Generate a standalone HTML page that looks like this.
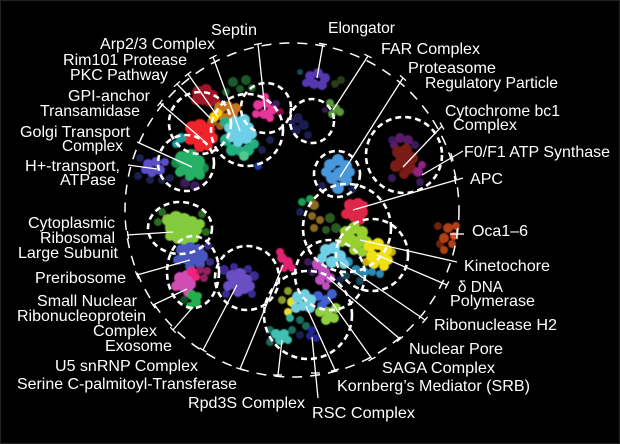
<!DOCTYPE html>
<html><head><meta charset="utf-8"><style>
html,body{margin:0;padding:0;background:#000;}
svg{display:block;}
text{font-family:"Liberation Sans",Arial,sans-serif;font-size:16px;fill:#fff;}
</style></head><body>
<svg width="620" height="444" viewBox="0 0 620 444" xmlns="http://www.w3.org/2000/svg">
<defs><filter id="soft" x="-10%" y="-10%" width="120%" height="120%"><feGaussianBlur stdDeviation="0.6"/></filter></defs>
<rect width="620" height="444" fill="#000"/>
<rect x="0.5" y="0.5" width="619" height="443" fill="none" stroke="#222" stroke-width="1"/>

<g filter="url(#soft)">
<!-- background dim dots -->
<g fill="#1a2250"><circle cx="140" cy="158" r="4"/><circle cx="162" cy="180" r="4"/><circle cx="262" cy="150" r="4"/><circle cx="270" cy="140" r="4"/><circle cx="300" cy="212" r="4"/><circle cx="340" cy="280" r="4"/><circle cx="300" cy="335" r="4"/><circle cx="150" cy="180" r="4"/><circle cx="322" cy="186" r="4"/><circle cx="352" cy="190" r="4"/><circle cx="138" cy="176" r="4"/><circle cx="170" cy="178" r="4"/></g>
<g fill="#3a1a5a"><circle cx="185" cy="183" r="5"/><circle cx="195" cy="186" r="5"/><circle cx="308" cy="262" r="4"/><circle cx="312" cy="272" r="4"/><circle cx="276" cy="104" r="4"/><circle cx="325" cy="110" r="3"/><circle cx="392" cy="140" r="4"/><circle cx="415" cy="145" r="4"/><circle cx="420" cy="182" r="4"/><circle cx="392" cy="178" r="4"/></g>
<g fill="#1a5a2a"><circle cx="233" cy="82" r="5"/><circle cx="246" cy="80" r="5"/><circle cx="240" cy="89" r="4"/><circle cx="252" cy="88" r="4"/><circle cx="226" cy="92" r="4"/></g>
<g fill="#1a4a5a"><circle cx="346" cy="276" r="4"/><circle cx="360" cy="281" r="4"/><circle cx="300" cy="72" r="3"/></g>

<!-- dark red -->
<g fill="#a01828"><circle cx="198" cy="92" r="6"/><circle cx="206" cy="90" r="6"/><circle cx="213" cy="95" r="5"/><circle cx="203" cy="99" r="6"/><circle cx="210" cy="102" r="5"/><circle cx="196" cy="100" r="5"/><circle cx="217" cy="102" r="4"/></g>
<!-- orange -->
<g fill="#c8761e"><circle cx="220" cy="108" r="6"/><circle cx="228" cy="106" r="5"/><circle cx="232" cy="114" r="6"/><circle cx="224" cy="118" r="5"/><circle cx="216" cy="115" r="5"/><circle cx="236" cy="108" r="5"/><circle cx="229" cy="121" r="5"/></g>
<g fill="#a05a20"><circle cx="212" cy="122" r="5"/><circle cx="220" cy="126" r="4"/></g>
<g fill="#ffd400"><circle cx="214" cy="117" r="5"/><circle cx="218" cy="113" r="4"/></g>
<!-- bright red -->
<g fill="#f0202c"><circle cx="192" cy="128" r="7"/><circle cx="200" cy="126" r="7"/><circle cx="208" cy="130" r="7"/><circle cx="196" cy="138" r="7"/><circle cx="205" cy="140" r="7"/><circle cx="212" cy="138" r="6"/><circle cx="190" cy="140" r="5"/><circle cx="200" cy="146" r="6"/><circle cx="208" cy="146" r="5"/></g>
<g fill="#1aa09a"><circle cx="181" cy="138" r="5"/><circle cx="176" cy="144" r="4"/></g>
<!-- green golgi -->
<g fill="#178a4a"><circle cx="176" cy="163" r="5"/><circle cx="204" cy="168" r="5"/></g>
<g fill="#25b065"><circle cx="182" cy="158" r="7"/><circle cx="191" cy="156" r="7"/><circle cx="198" cy="162" r="7"/><circle cx="186" cy="168" r="7"/><circle cx="196" cy="170" r="7"/><circle cx="180" cy="172" r="5"/><circle cx="190" cy="176" r="5"/><circle cx="200" cy="175" r="5"/></g>
<!-- H+ ATPase -->
<g fill="#5a50c8"><circle cx="148" cy="164" r="5"/><circle cx="156" cy="162" r="5"/><circle cx="160" cy="170" r="5"/><circle cx="152" cy="172" r="5"/><circle cx="145" cy="170" r="4"/><circle cx="165" cy="162" r="4"/></g>
<!-- cyan arp -->
<g fill="#20b080"><circle cx="226" cy="140" r="6"/><circle cx="232" cy="150" r="6"/><circle cx="248" cy="150" r="6"/><circle cx="254" cy="144" r="5"/><circle cx="225" cy="122" r="5"/><circle cx="240" cy="151" r="5"/></g>
<g fill="#50c890"><circle cx="244" cy="156" r="5"/></g>
<g fill="#6cd0e8"><circle cx="235" cy="122" r="6"/><circle cx="244" cy="120" r="6"/><circle cx="248" cy="128" r="6"/><circle cx="240" cy="132" r="7"/><circle cx="232" cy="136" r="6"/><circle cx="246" cy="138" r="6"/><circle cx="238" cy="142" r="5"/><circle cx="252" cy="134" r="5"/><circle cx="229" cy="128" r="5"/></g>
<g fill="#1a3aa0"><circle cx="258" cy="166" r="4"/></g>
<!-- septin pink -->
<g fill="#801040"><circle cx="280" cy="112" r="4"/></g>
<g fill="#e8359a"><circle cx="258" cy="105" r="5"/><circle cx="266" cy="103" r="5"/><circle cx="272" cy="110" r="5"/><circle cx="264" cy="114" r="5"/><circle cx="256" cy="114" r="4"/><circle cx="270" cy="118" r="4"/><circle cx="265" cy="97" r="4"/></g>
<!-- elongator -->
<g fill="#5838b0"><circle cx="310" cy="76" r="5"/><circle cx="318" cy="73" r="5"/><circle cx="325" cy="78" r="5"/><circle cx="314" cy="84" r="5"/><circle cx="322" cy="85" r="5"/><circle cx="306" cy="83" r="4"/></g>
<g fill="#2a3a1a"><circle cx="335" cy="84" r="4"/><circle cx="341" cy="80" r="4"/></g>
<g fill="#5a9a3a"><circle cx="330" cy="103" r="4"/><circle cx="336" cy="108" r="4"/><circle cx="332" cy="114" r="4"/><circle cx="340" cy="112" r="4"/></g>
<g fill="#1a1a50"><circle cx="298" cy="118" r="5"/><circle cx="304" cy="125" r="5"/><circle cx="296" cy="130" r="5"/><circle cx="308" cy="135" r="4"/><circle cx="292" cy="122" r="4"/></g>
<!-- proteasome -->
<g fill="#4a98dc"><circle cx="330" cy="165" r="6"/><circle cx="338" cy="160" r="6"/><circle cx="346" cy="166" r="6"/><circle cx="340" cy="174" r="7"/><circle cx="332" cy="178" r="6"/><circle cx="346" cy="180" r="6"/><circle cx="338" cy="188" r="6"/><circle cx="326" cy="172" r="5"/><circle cx="350" cy="172" r="5"/></g>
<!-- cytochrome -->
<g fill="#5a1a6a"><circle cx="400" cy="138" r="5"/><circle cx="408" cy="140" r="5"/><circle cx="394" cy="145" r="4"/></g>
<g fill="#7a1a12"><circle cx="398" cy="152" r="6"/><circle cx="406" cy="150" r="6"/><circle cx="412" cy="158" r="6"/><circle cx="402" cy="162" r="7"/><circle cx="410" cy="168" r="6"/><circle cx="396" cy="166" r="6"/><circle cx="404" cy="174" r="5"/></g>
<g fill="#902080"><circle cx="418" cy="172" r="5"/><circle cx="422" cy="165" r="4"/></g>
<!-- APC region -->
<g fill="#18a050"><circle cx="302" cy="202" r="4"/><circle cx="310" cy="199" r="4"/></g>
<g fill="#8a6a20"><circle cx="314" cy="205" r="5"/><circle cx="312" cy="216" r="4"/><circle cx="320" cy="220" r="4"/><circle cx="314" cy="228" r="4"/></g>
<g fill="#2a5a20"><circle cx="330" cy="218" r="5"/><circle cx="336" cy="228" r="5"/><circle cx="326" cy="230" r="4"/></g>
<g fill="#e02848"><circle cx="350" cy="205" r="6"/><circle cx="358" cy="204" r="6"/><circle cx="362" cy="212" r="6"/><circle cx="354" cy="216" r="6"/><circle cx="346" cy="214" r="5"/><circle cx="360" cy="220" r="5"/><circle cx="364" cy="205" r="4"/></g>
<!-- kinetochore / delta -->
<g fill="#98d030"><circle cx="346" cy="232" r="6"/><circle cx="354" cy="228" r="6"/><circle cx="362" cy="232" r="6"/><circle cx="350" cy="240" r="7"/><circle cx="358" cy="242" r="6"/><circle cx="366" cy="242" r="6"/><circle cx="342" cy="242" r="5"/><circle cx="354" cy="250" r="5"/><circle cx="362" cy="252" r="5"/></g>
<g fill="#c8b010"><circle cx="392" cy="252" r="4"/><circle cx="366" cy="262" r="4"/></g>
<g fill="#f0e018"><circle cx="370" cy="246" r="6"/><circle cx="378" cy="244" r="6"/><circle cx="386" cy="250" r="6"/><circle cx="372" cy="256" r="6"/><circle cx="380" cy="258" r="6"/><circle cx="388" cy="260" r="5"/><circle cx="374" cy="264" r="5"/><circle cx="384" cy="266" r="5"/></g>
<g fill="#2a8ab0"><circle cx="348" cy="262" r="5"/><circle cx="356" cy="270" r="5"/><circle cx="364" cy="272" r="5"/><circle cx="372" cy="272" r="4"/><circle cx="380" cy="274" r="4"/></g>
<g fill="#c050c0"><circle cx="318" cy="264" r="6"/><circle cx="324" cy="272" r="6"/><circle cx="320" cy="280" r="5"/><circle cx="330" cy="278" r="5"/><circle cx="326" cy="286" r="4"/></g>
<g fill="#70d0e6"><circle cx="326" cy="250" r="6"/><circle cx="334" cy="248" r="6"/><circle cx="340" cy="256" r="6"/><circle cx="332" cy="262" r="6"/><circle cx="322" cy="258" r="5"/><circle cx="344" cy="264" r="5"/></g>
<!-- oca -->
<g fill="#702010"><circle cx="438" cy="226" r="4"/><circle cx="440" cy="244" r="4"/></g>
<g fill="#b04018"><circle cx="448" cy="228" r="5"/><circle cx="456" cy="226" r="4"/><circle cx="444" cy="238" r="5"/><circle cx="452" cy="244" r="4"/><circle cx="444" cy="250" r="4"/></g>
<g fill="#e05020"><circle cx="454" cy="236" r="4"/></g>
<!-- pink small -->
<g fill="#e02070"><circle cx="282" cy="258" r="5"/><circle cx="288" cy="262" r="5"/><circle cx="284" cy="268" r="4"/><circle cx="292" cy="268" r="4"/><circle cx="280" cy="252" r="4"/></g>
<!-- bottom cluster -->
<g fill="#8a9a2a"><circle cx="282" cy="300" r="4"/><circle cx="288" cy="291" r="4"/></g>
<g fill="#e0e030"><circle cx="292" cy="302" r="5"/><circle cx="288" cy="312" r="4"/></g>
<g fill="#4060d0"><circle cx="318" cy="296" r="5"/><circle cx="326" cy="300" r="5"/><circle cx="322" cy="306" r="5"/><circle cx="332" cy="294" r="5"/></g>
<g fill="#90d040"><circle cx="320" cy="312" r="5"/><circle cx="328" cy="312" r="5"/><circle cx="334" cy="318" r="5"/><circle cx="326" cy="320" r="5"/><circle cx="336" cy="308" r="5"/></g>
<g fill="#70d0e0"><circle cx="298" cy="297" r="6"/><circle cx="305" cy="294" r="5"/><circle cx="310" cy="300" r="6"/><circle cx="303" cy="306" r="5"/><circle cx="296" cy="308" r="5"/><circle cx="310" cy="308" r="5"/></g>
<g fill="#1a6a5a"><circle cx="300" cy="320" r="4"/><circle cx="306" cy="326" r="4"/><circle cx="270" cy="330" r="4"/><circle cx="270" cy="342" r="4"/><circle cx="292" cy="330" r="4"/></g>
<g fill="#30b0a0"><circle cx="290" cy="318" r="4"/></g>
<g fill="#202090"><circle cx="310" cy="336" r="4"/><circle cx="316" cy="338" r="4"/><circle cx="312" cy="330" r="4"/></g>
<g fill="#40c0b0"><circle cx="276" cy="334" r="5"/><circle cx="284" cy="334" r="5"/><circle cx="280" cy="340" r="5"/><circle cx="288" cy="340" r="4"/></g>
<!-- left: ribosomal -->
<g fill="#2a6a20"><circle cx="162" cy="212" r="4"/><circle cx="158" cy="222" r="4"/><circle cx="202" cy="214" r="4"/><circle cx="206" cy="232" r="4"/></g>
<g fill="#84cc3c"><circle cx="168" cy="220" r="6"/><circle cx="176" cy="218" r="7"/><circle cx="184" cy="220" r="7"/><circle cx="192" cy="222" r="6"/><circle cx="172" cy="228" r="7"/><circle cx="180" cy="230" r="7"/><circle cx="188" cy="232" r="6"/><circle cx="196" cy="230" r="6"/><circle cx="178" cy="238" r="6"/><circle cx="186" cy="240" r="6"/><circle cx="170" cy="236" r="5"/><circle cx="194" cy="238" r="5"/><circle cx="200" cy="224" r="5"/></g>
<g fill="#3a2a80"><circle cx="208" cy="246" r="4"/><circle cx="210" cy="262" r="4"/></g>
<g fill="#4a56c0"><circle cx="182" cy="250" r="6"/><circle cx="190" cy="248" r="6"/><circle cx="198" cy="250" r="6"/><circle cx="186" cy="258" r="6"/><circle cx="194" cy="258" r="6"/><circle cx="202" cy="256" r="6"/><circle cx="178" cy="260" r="5"/><circle cx="190" cy="266" r="5"/><circle cx="200" cy="264" r="5"/></g>
<g fill="#902060"><circle cx="200" cy="270" r="4"/><circle cx="204" cy="278" r="4"/><circle cx="207" cy="271" r="4"/></g>
<g fill="#d04eb4"><circle cx="180" cy="278" r="6"/><circle cx="187" cy="276" r="6"/><circle cx="182" cy="285" r="6"/><circle cx="190" cy="284" r="6"/><circle cx="176" cy="286" r="5"/><circle cx="188" cy="292" r="5"/></g>
<g fill="#f0207a"><circle cx="192" cy="272" r="5"/><circle cx="196" cy="277" r="4"/></g>
<g fill="#105020"><circle cx="184" cy="300" r="4"/></g>
<g fill="#20b050"><circle cx="192" cy="295" r="5"/><circle cx="196" cy="302" r="5"/><circle cx="190" cy="306" r="4"/><circle cx="198" cy="296" r="4"/></g>
<!-- U5 -->
<g fill="#3a2a90"><circle cx="224" cy="270" r="5"/><circle cx="254" cy="276" r="5"/><circle cx="248" cy="269" r="4"/><circle cx="226" cy="294" r="4"/><circle cx="252" cy="294" r="4"/><circle cx="234" cy="267" r="4"/></g>
<g fill="#6a50c4"><circle cx="232" cy="276" r="6"/><circle cx="240" cy="274" r="6"/><circle cx="246" cy="280" r="6"/><circle cx="236" cy="284" r="6"/><circle cx="244" cy="288" r="6"/><circle cx="228" cy="286" r="5"/><circle cx="238" cy="292" r="5"/><circle cx="250" cy="286" r="5"/></g>
</g>

<!-- big dashed circle -->
<circle cx="292" cy="210" r="167" fill="none" stroke="#fff" stroke-width="1.5" stroke-dasharray="10 8"/>

<!-- small dashed circles -->
<g fill="none" stroke="#fff" stroke-width="2.6" stroke-dasharray="6 4">
<circle cx="200" cy="123" r="31"/>
<circle cx="186" cy="163" r="28"/>
<circle cx="247" cy="130" r="36"/>
<circle cx="266" cy="108" r="25"/>
<circle cx="312" cy="121" r="22"/>
<circle cx="337" cy="174" r="23"/>
<circle cx="404" cy="155" r="38"/>
<circle cx="347" cy="228" r="44"/>
<circle cx="372" cy="255" r="36"/>
<circle cx="330" cy="275" r="35"/>
<circle cx="308" cy="315" r="44"/>
<ellipse cx="180" cy="228" rx="32" ry="26"/>
<ellipse cx="193" cy="272" rx="26" ry="36"/>
<circle cx="247" cy="278" r="32"/>
</g>

<!-- connector lines -->
<g stroke="#fff" stroke-width="1.3" fill="none">
<line x1="258" y1="44" x2="265" y2="110"/>
<line x1="213" y1="57" x2="240" y2="131"/>
<line x1="188" y1="74" x2="218" y2="117"/>
<line x1="177" y1="84" x2="210" y2="118"/>
<line x1="160" y1="103" x2="203" y2="140"/>
<line x1="137" y1="142" x2="192" y2="167"/>
<line x1="128" y1="165" x2="157" y2="169"/>
<line x1="323" y1="44" x2="317" y2="78"/>
<line x1="368" y1="56" x2="333" y2="110"/>
<line x1="403" y1="78" x2="340" y2="177"/>
<line x1="442" y1="126" x2="403" y2="167"/>
<line x1="463" y1="151" x2="422" y2="175"/>
<line x1="463" y1="178" x2="353" y2="210"/>
<line x1="127" y1="235" x2="173" y2="232"/>
<line x1="137" y1="275" x2="190" y2="260"/>
<line x1="153" y1="305" x2="187" y2="289"/>
<line x1="173" y1="330" x2="193" y2="307"/>
<line x1="203" y1="350" x2="237" y2="285"/>
<line x1="240" y1="369" x2="283" y2="265"/>
<line x1="278" y1="375" x2="282" y2="340"/>
<line x1="318" y1="398" x2="312" y2="337"/>
<line x1="335" y1="370" x2="306" y2="306"/>
<line x1="372" y1="359" x2="328" y2="297"/>
<line x1="400" y1="339" x2="327" y2="277"/>
<line x1="425" y1="320" x2="340" y2="262"/>
<line x1="447" y1="285" x2="377" y2="255"/>
<line x1="457" y1="262" x2="360" y2="240"/>
<line x1="450" y1="234" x2="464" y2="234"/>
</g>
<!-- ticks -->
<g stroke="#fff" stroke-width="1.3">
<line x1="254.1" y1="44.8" x2="261.9" y2="43.2"/>
<line x1="209.4" y1="58.8" x2="216.6" y2="55.2"/>
<line x1="184.8" y1="76.4" x2="191.2" y2="71.6"/>
<line x1="174" y1="86.7" x2="180" y2="81.3"/>
<line x1="157.5" y1="106.1" x2="162.5" y2="99.9"/>
<line x1="319.1" y1="43.3" x2="326.9" y2="44.7"/>
<line x1="364.4" y1="54.2" x2="371.6" y2="57.8"/>
<line x1="400" y1="75.4" x2="406" y2="80.6"/>
<line x1="440" y1="122.5" x2="444" y2="129.5"/>
<line x1="450.8" y1="153.2" x2="453.2" y2="160.8"/>
<line x1="454.3" y1="176" x2="455.7" y2="184"/>
<line x1="457" y1="229" x2="457" y2="239"/>
<line x1="128.6" y1="239" x2="127.4" y2="231"/>
<line x1="138.6" y1="278.7" x2="135.4" y2="271.3"/>
<line x1="155.3" y1="308.3" x2="150.7" y2="301.7"/>
<line x1="175.8" y1="332.8" x2="170.2" y2="327.2"/>
<line x1="206.4" y1="352.1" x2="199.6" y2="347.9"/>
<line x1="243.8" y1="370.2" x2="236.2" y2="367.8"/>
<line x1="273" y1="375" x2="282" y2="375"/>
<line x1="311" y1="373" x2="320" y2="373"/>
<line x1="338.9" y1="369" x2="331.1" y2="371"/>
<line x1="375.5" y1="357.1" x2="368.5" y2="360.9"/>
<line x1="403.1" y1="336.4" x2="396.9" y2="341.6"/>
<line x1="427.6" y1="316.9" x2="422.4" y2="323.1"/>
<line x1="448.8" y1="281.4" x2="445.2" y2="288.6"/>
</g>

<!-- labels -->
<g>
<text x="211" y="35" textLength="46" lengthAdjust="spacingAndGlyphs">Septin</text>
<text x="100" y="49" textLength="115" lengthAdjust="spacingAndGlyphs">Arp2/3 Complex</text>
<text x="63" y="65" textLength="124" lengthAdjust="spacingAndGlyphs">Rim101 Protease</text>
<text x="70" y="80" textLength="98" lengthAdjust="spacingAndGlyphs">PKC Pathway</text>
<text x="68" y="101" textLength="82" lengthAdjust="spacingAndGlyphs">GPI-anchor</text>
<text x="40" y="116" textLength="100" lengthAdjust="spacingAndGlyphs">Transamidase</text>
<text x="20" y="137" textLength="110" lengthAdjust="spacingAndGlyphs">Golgi Transport</text>
<text x="62" y="151" textLength="61" lengthAdjust="spacingAndGlyphs">Complex</text>
<text x="25" y="171" textLength="95" lengthAdjust="spacingAndGlyphs">H+-transport,</text>
<text x="60" y="185" textLength="56" lengthAdjust="spacingAndGlyphs">ATPase</text>

<text x="328" y="33" textLength="67" lengthAdjust="spacingAndGlyphs">Elongator</text>
<text x="381" y="54" textLength="99" lengthAdjust="spacingAndGlyphs">FAR Complex</text>
<text x="408" y="73" textLength="88" lengthAdjust="spacingAndGlyphs">Proteasome</text>
<text x="425" y="88" textLength="133" lengthAdjust="spacingAndGlyphs">Regulatory Particle</text>
<text x="445" y="116" textLength="115" lengthAdjust="spacingAndGlyphs">Cytochrome bc1</text>
<text x="453" y="130" textLength="64" lengthAdjust="spacingAndGlyphs">Complex</text>
<text x="464" y="157" textLength="146" lengthAdjust="spacingAndGlyphs">F0/F1 ATP Synthase</text>
<text x="470" y="184" textLength="33" lengthAdjust="spacingAndGlyphs">APC</text>

<text x="28" y="228" textLength="87" lengthAdjust="spacingAndGlyphs">Cytoplasmic</text>
<text x="40" y="243" textLength="75" lengthAdjust="spacingAndGlyphs">Ribosomal</text>
<text x="18" y="258" textLength="100" lengthAdjust="spacingAndGlyphs">Large Subunit</text>
<text x="35" y="283" textLength="91" lengthAdjust="spacingAndGlyphs">Preribosome</text>
<text x="37" y="306" textLength="100" lengthAdjust="spacingAndGlyphs">Small Nuclear</text>
<text x="17" y="321" textLength="129" lengthAdjust="spacingAndGlyphs">Ribonucleoprotein</text>
<text x="93" y="336" textLength="64" lengthAdjust="spacingAndGlyphs">Complex</text>
<text x="105" y="351" textLength="67" lengthAdjust="spacingAndGlyphs">Exosome</text>
<text x="55" y="371" textLength="143" lengthAdjust="spacingAndGlyphs">U5 snRNP Complex</text>
<text x="17" y="389" textLength="220" lengthAdjust="spacingAndGlyphs">Serine C-palmitoyl-Transferase</text>
<text x="188" y="408" textLength="117" lengthAdjust="spacingAndGlyphs">Rpd3S Complex</text>

<text x="472" y="236" textLength="56" lengthAdjust="spacingAndGlyphs">Oca1–6</text>
<text x="464" y="271" textLength="86" lengthAdjust="spacingAndGlyphs">Kinetochore</text>
<text x="458" y="292" textLength="45" lengthAdjust="spacingAndGlyphs">δ DNA</text>
<text x="450" y="306" textLength="85" lengthAdjust="spacingAndGlyphs">Polymerase</text>
<text x="434" y="330" textLength="123" lengthAdjust="spacingAndGlyphs">Ribonuclease H2</text>
<text x="409" y="354" textLength="94" lengthAdjust="spacingAndGlyphs">Nuclear Pore</text>
<text x="382" y="373" textLength="113" lengthAdjust="spacingAndGlyphs">SAGA Complex</text>
<text x="337" y="391" textLength="193" lengthAdjust="spacingAndGlyphs">Kornberg’s Mediator (SRB)</text>
<text x="312" y="418" textLength="103" lengthAdjust="spacingAndGlyphs">RSC Complex</text>
</g>
</svg>
</body></html>
